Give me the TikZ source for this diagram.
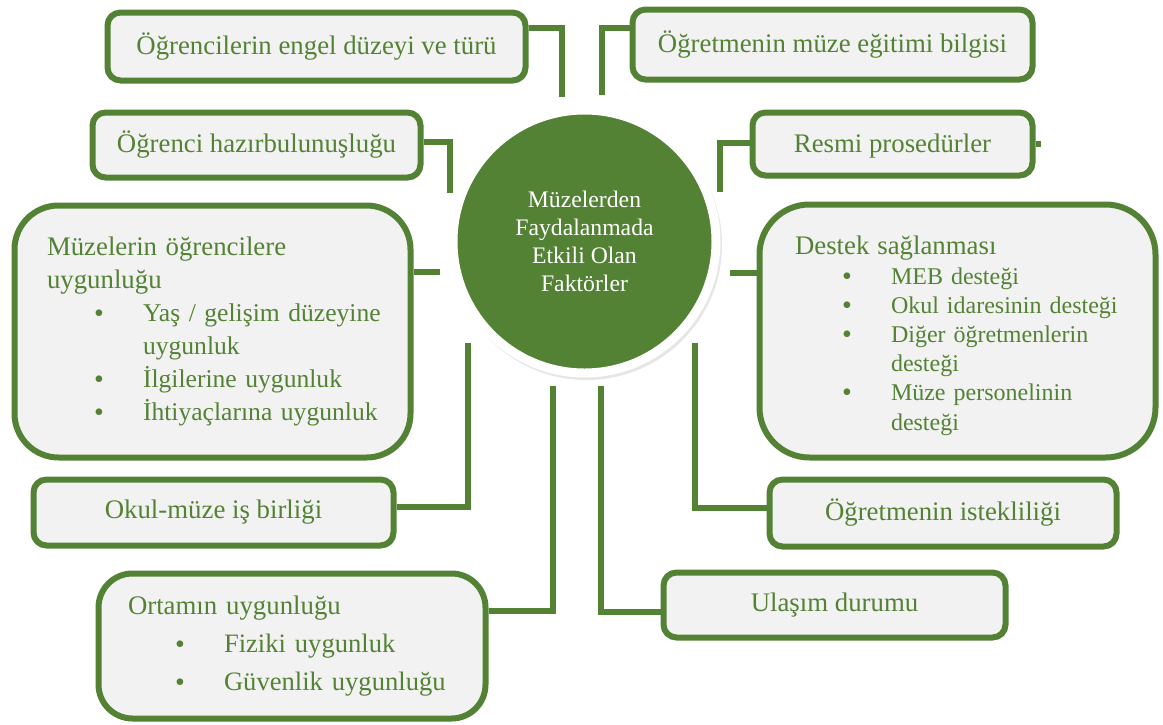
\documentclass[tikz,border=0pt]{standalone}
\usepackage{fontspec}
\setmainfont{Liberation Serif}
\usetikzlibrary{shadows}
\definecolor{leaf}{RGB}{84,130,53}
\definecolor{paper}{RGB}{242,242,242}
\newcommand{\blt}[1]{\hspace*{23.5pt}\makebox[24.5pt][l]{\raisebox{-0.5pt}{\fontsize{14pt}{0pt}\selectfont\textbullet}}\mbox{#1}}
\newcommand{\cont}{\hspace*{48pt}}
\newcommand{\head}[1]{\mbox{\fontsize{13.4pt}{16pt}\selectfont #1}}

\begin{document}
\begin{tikzpicture}[x=0.5pt,y=-0.5pt,
	box/.style={draw=leaf,fill=paper,line width=3pt,rounded corners=6.5pt,text=leaf,inner sep=0pt,
		font=\fontsize{13.4pt}{16.5pt}\selectfont,
		drop shadow={shadow xshift=1.2pt,shadow yshift=-1.2pt,opacity=0.25}},
	listbox/.style={box,align=left},
	link/.style={draw=leaf,line width=2.6pt}]
		\useasboundingbox (0,0) rectangle (1163,724);

		% Factors
		\node[box,minimum width=209pt,minimum height=34pt] (engel) at (316.5,46.5) {Öğrencilerin engel düzeyi ve türü};
		\node[box,minimum width=200pt,minimum height=35pt] (bilgi) at (832.5,44.5) {Öğretmenin müze eğitimi bilgisi};
		\node[box,minimum width=164pt,minimum height=32.5pt] (hazir) at (256.5,145) {Öğrenci hazırbulunuşluğu};
		\node[box,minimum width=140pt,minimum height=31.5pt] (resmi) at (892.5,144) {\rule{0pt}{11pt}Resmi prosedürler};
		\node[listbox,rounded corners=22pt,minimum width=198pt,minimum height=126pt,inner xsep=16.25pt,text width=165.5pt,
			font=\fontsize{12.8pt}{16.5pt}\selectfont] (muzuyg) at (212.5,331.5)
			{\head{Müzelerin öğrencilere}\\\head{uygunluğu}\\\blt{Yaş / gelişim düzeyine}\\\cont uygunluk\\\blt{İlgilerine uygunluk}\\\blt{İhtiyaçlarına uygunluk}};
		\node[listbox,rounded corners=25pt,minimum width=198pt,minimum height=126.5pt,inner xsep=17.75pt,text width=162.5pt,
			font=\fontsize{12pt}{14.6pt}\selectfont] (destek) at (957.5,331)
			{\rule{0pt}{14pt}\head{Destek sağlanması}\\\blt{MEB desteği}\\\blt{Okul idaresinin desteği}\\\blt{Diğer öğretmenlerin}\\\cont desteği\\\blt{Müze personelinin}\\\cont desteği};
		\node[box,minimum width=180pt,minimum height=33pt] (okul) at (213.5,512.5) {Okul-müze iş birliği};
		\node[box,minimum width=173.5pt,minimum height=33.5pt] (istek) at (943,513) {Öğretmenin istekliliği};
		\node[listbox,rounded corners=17pt,minimum width=193.5pt,minimum height=72.5pt,inner xsep=14.75pt,text width=164pt,
			font=\fontsize{13.3pt}{18.8pt}\selectfont] (ortam) at (292,646)
			{\head{Ortamın uygunluğu}\\\blt{Fiziki uygunluk}\\\blt{Güvenlik uygunluğu}};
		\node[box,minimum width=171pt,minimum height=32.5pt] (ulasim) at (834.5,605) {Ulaşım durumu};

		% Centre
		\node[circle,fill=leaf,draw=white,line width=4.5pt,minimum size=131.5pt,inner sep=0pt,text=white,align=center,
			font=\fontsize{11.85pt}{14pt}\selectfont,
			drop shadow={shadow xshift=1pt,shadow yshift=-1.5pt,shadow scale=1.03,opacity=0.2}] (hub) at (584.5,241.5)
			{Müzelerden\\Faydalanmada\\Etkili Olan\\Faktörler};

		% Loose ends
		\coordinate (engelend) at (562,97);
		\coordinate (bilgiend) at (602,95);
		\coordinate (hazirend) at (450,193);
		\coordinate (resmiend) at (720,192);
		\coordinate (resmistub) at (1041,144);
		\coordinate (muzend) at (440,272);
		\coordinate (destend) at (730,273);
		\coordinate (okulend) at (468,343);
		\coordinate (istekend) at (695,343);
		\coordinate (ortamend) at (553,386);
		\coordinate (ulasend) at (601,386);

		\draw[link] ([yshift=9.25pt]engel.east) -| (engelend);
		\draw[link] ([yshift=8.25pt]bilgi.west) -| (bilgiend);
		\draw[link] ([yshift=1.5pt]hazir.east) -| (hazirend);
		\draw[link] ([yshift=0.5pt]resmi.west) -| (resmiend);
		\draw[link] (resmi.east) -- (resmistub);
		\draw[link] ([yshift=29.75pt]muzuyg.east) -- (muzend);
		\draw[link] ([yshift=29pt]destek.west) -- (destend);
		\draw[link] ([yshift=2.75pt]okul.east) -| (okulend);
		\draw[link] ([yshift=2.5pt]istek.west) -| (istekend);
		\draw[link] ([yshift=17.5pt]ortam.east) -| (ortamend);
		\draw[link] ([yshift=-3.5pt]ulasim.west) -| (ulasend);

\end{tikzpicture}
\end{document}
